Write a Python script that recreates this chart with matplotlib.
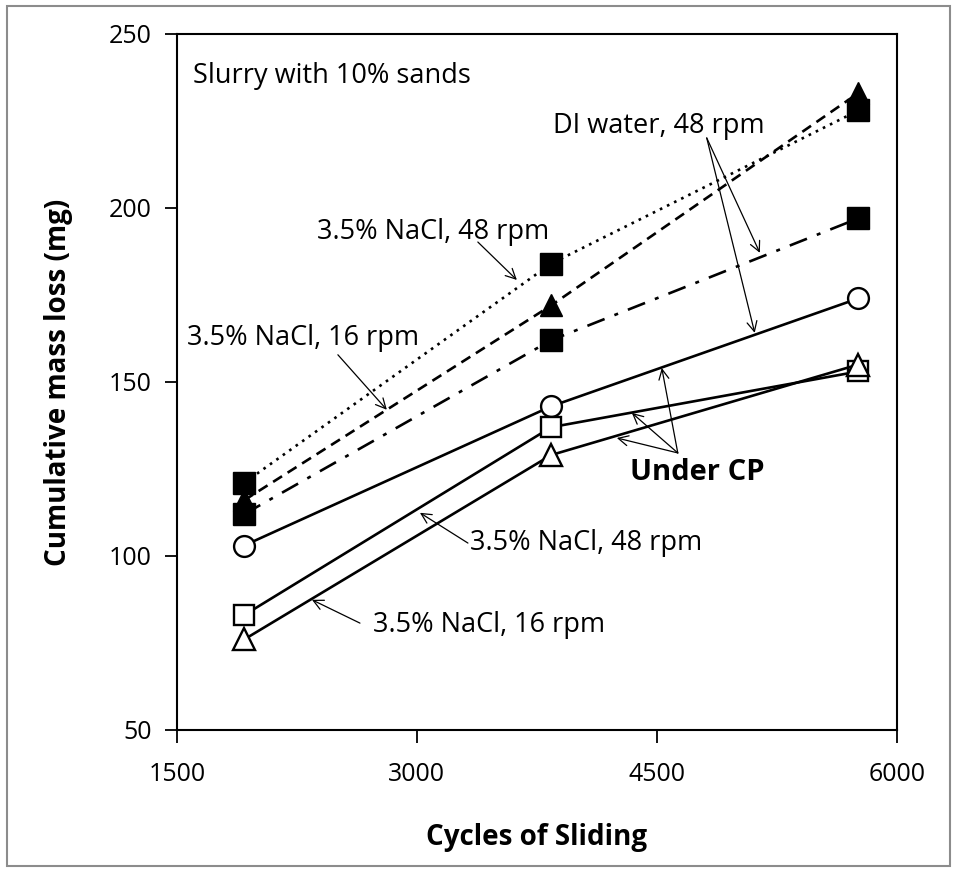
import matplotlib
matplotlib.use("Agg")
import matplotlib.pyplot as plt
from matplotlib.patches import Rectangle

plt.rcParams["font.family"] = ["Open Sans", "DejaVu Sans"]

# Data
cycles = [1920, 3840, 5760]

nacl48 = [121, 184, 228]        # dotted, filled squares
nacl16 = [116, 172, 233]        # dashed, filled triangles
di48 = [112, 162, 197]          # dash-dot, filled squares
di48_cp = [103, 143, 174]       # solid, open circles
nacl48_cp = [83, 137, 153]      # solid, open squares
nacl16_cp = [76, 129, 155]      # solid, open triangles

x_ticks = [1500, 3000, 4500, 6000]
y_ticks = [50, 100, 150, 200, 250]

fig = plt.figure(figsize=(9.54, 8.69), dpi=100)
ax = fig.add_axes([0.1855, 0.160, 0.7545, 0.801])

# grey frame round the whole picture
fig.patches.append(Rectangle((0.007, 0.003), 0.989, 0.990, transform=fig.transFigure,
                             fill=False, edgecolor="#8c8c8c", linewidth=1.5))

lw = 1.9
ax.plot(cycles, nacl48, color="black", lw=lw, ls=(0, (1, 2)), marker="s", ms=16,
        mfc="black", mec="black")
ax.plot(cycles, nacl16, color="black", lw=lw, ls=(0, (4, 2.5)), marker="^", ms=16,
        mfc="black", mec="black")
ax.plot(cycles, di48, color="black", lw=lw, ls=(0, (7, 4, 1.5, 4)), marker="s", ms=16,
        mfc="black", mec="black")
ax.plot(cycles, di48_cp, color="black", lw=lw, marker="o", ms=15, mfc="white",
        mec="black", mew=1.7)
ax.plot(cycles, nacl48_cp, color="black", lw=lw, marker="s", ms=15, mfc="white",
        mec="black", mew=1.7)
ax.plot(cycles, nacl16_cp, color="black", lw=lw, marker="^", ms=16, mfc="white",
        mec="black", mew=1.7)

ax.set_xlim(1500, 6000)
ax.set_ylim(50, 250)
ax.set_xticks(x_ticks)
ax.set_yticks(y_ticks)
ax.tick_params(direction="out", length=9, width=1.3, labelsize=18, pad=9,
               top=False, right=False)
ax.tick_params(axis="x", pad=14)
for sp in ax.spines.values():
    sp.set_linewidth(1.5)

ax.set_xlabel("Cycles of Sliding", fontsize=20, fontweight="bold", labelpad=26)
ax.set_ylabel("Cumulative mass loss (mg)", fontsize=20, fontweight="bold", labelpad=26)

# annotations
fs = 19.5
arrow = dict(arrowstyle="->", color="black", lw=0.9, mutation_scale=18,
             shrinkA=0, shrinkB=0)

ax.text(1600, 238, "Slurry with 10% sands", fontsize=fs, va="center", ha="left")

ax.text(2375, 193, "3.5% NaCl, 48 rpm", fontsize=fs, va="center", ha="left")
ax.annotate("", xy=(3625, 179.3), xytext=(3381, 190.2), arrowprops=arrow)

ax.text(3850, 223.6, "DI water, 48 rpm", fontsize=fs, va="center", ha="left")
ax.annotate("", xy=(5144, 187.1), xytext=(4812, 220.1), arrowprops=arrow)
ax.annotate("", xy=(5112, 164.1), xytext=(4812, 220.1), arrowprops=arrow)

ax.text(1562, 162.6, "3.5% NaCl, 16 rpm", fontsize=fs, va="center", ha="left")
ax.annotate("", xy=(2812, 142), xytext=(2506, 157.8), arrowprops=arrow)

ax.text(4331, 124.1, "Under CP", fontsize=21, fontweight="bold", va="center", ha="left")
for hx, hy in [(4531, 154), (4344, 141.1), (4250, 133.9)]:
    ax.annotate("", xy=(hx, hy), xytext=(4631, 129.6), arrowprops=arrow)

ax.text(3330, 103.7, "3.5% NaCl, 48 rpm", fontsize=fs, va="center", ha="left")
ax.annotate("", xy=(3019, 112.4), xytext=(3319, 103.7), arrowprops=arrow)

ax.text(2725, 80.2, "3.5% NaCl, 16 rpm", fontsize=fs, va="center", ha="left")
ax.annotate("", xy=(2344, 87.4), xytext=(2644, 80.7), arrowprops=arrow)

fig.savefig("out.png", dpi=100)
